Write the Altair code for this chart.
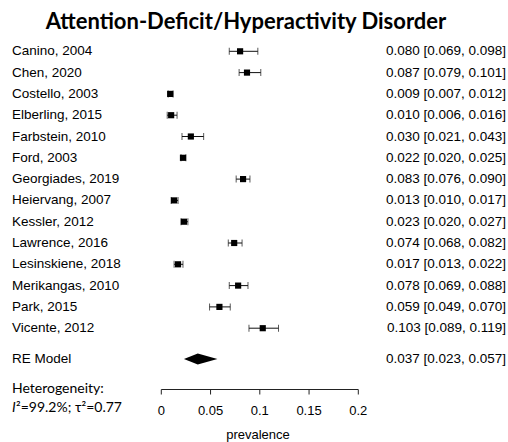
import altair as alt
import pandas as pd

# Study-level prevalence estimates with 95% confidence intervals
studies = [
    "Canino, 2004", "Chen, 2020", "Costello, 2003", "Elberling, 2015",
    "Farbstein, 2010", "Ford, 2003", "Georgiades, 2019", "Heiervang, 2007",
    "Kessler, 2012", "Lawrence, 2016", "Lesinskiene, 2018", "Merikangas, 2010",
    "Park, 2015", "Vicente, 2012",
]
est = [0.080, 0.087, 0.009, 0.010, 0.030, 0.022, 0.083, 0.013, 0.023, 0.074, 0.017, 0.078, 0.059, 0.103]
lower = [0.069, 0.079, 0.007, 0.006, 0.021, 0.020, 0.076, 0.010, 0.020, 0.068, 0.013, 0.069, 0.049, 0.089]
upper = [0.098, 0.101, 0.012, 0.016, 0.043, 0.025, 0.090, 0.017, 0.027, 0.082, 0.022, 0.088, 0.070, 0.119]

# Random-effects pooled estimate
re_label = "RE Model"
re_est, re_lower, re_upper = 0.037, 0.023, 0.057

# Axis ticks
tick_values = [0, 0.05, 0.1, 0.15, 0.2]
tick_labels = ["0", "0.05", "0.1", "0.15", "0.2"]

title_text = "Attention-Deficit/Hyperactivity Disorder"
het_line1 = "Heterogeneity:"
het_i2 = "\u00b2=99.2%; \u03c4\u00b2=0.77"
x_title = "prevalence"

# ---- layout ----
W, H = 508, 442
X0_PX, PX_PER_UNIT = 161.3, 985.0      # pixel of prevalence 0, pixels per unit
ROW0_PX, ROW_PX = 51.3, 21.3           # pixel of first row, row spacing
RE_ROW = 14.45
AXIS_Y = 389.5
LABEL_FONT = "Liberation Sans"
SIDE_FONT = "Lato"

xscale = alt.Scale(domain=[-X0_PX / PX_PER_UNIT, (W - X0_PX) / PX_PER_UNIT],
                   range=[0, W], zero=False, nice=False)
yscale = alt.Scale(domain=[-ROW0_PX / ROW_PX, (H - ROW0_PX) / ROW_PX],
                   range=[0, H], zero=False, nice=False)

rows = pd.DataFrame({
    "study": studies,
    "row": list(range(len(studies))),
    "est": est,
    "lower": lower,
    "upper": upper,
})
rows["ci_text"] = [f"{e:.3f} [{l:.3f}, {u:.3f}]" for e, l, u in zip(est, lower, upper)]

re_df = pd.DataFrame({
    "study": [re_label], "row": [RE_ROW],
    "ci_text": [f"{re_est:.3f} [{re_lower:.3f}, {re_upper:.3f}]"],
})

# Diamond for the pooled estimate: widest at the estimate, points at the CI limits
half = 5.5 / ROW_PX
diamond = pd.DataFrame({
    "x": [re_lower, re_est, re_upper],
    "ytop": [RE_ROW, RE_ROW - half, RE_ROW],
    "ybot": [RE_ROW, RE_ROW + half, RE_ROW],
})

ticks_df = pd.DataFrame({"v": tick_values, "lab": tick_labels})
axis_df = pd.DataFrame({"a": [tick_values[0]], "b": [tick_values[-1]]})

base = alt.Chart(rows)
Y = alt.Y("row:Q", scale=yscale, axis=None)

ci_lines = base.mark_rule(color="#111", strokeWidth=1).encode(
    x=alt.X("lower:Q", scale=xscale, axis=None), x2="upper:Q", y=Y)
cap_lo = base.mark_tick(color="#111", orient="vertical", size=7, thickness=1).encode(
    x=alt.X("lower:Q", scale=xscale, axis=None), y=Y)
cap_hi = base.mark_tick(color="#111", orient="vertical", size=7, thickness=1).encode(
    x=alt.X("upper:Q", scale=xscale, axis=None), y=Y)
squares = base.mark_point(shape="square", filled=True, color="#000", size=38, opacity=1).encode(
    x=alt.X("est:Q", scale=xscale, axis=None), y=Y)

study_text = base.mark_text(align="left", baseline="middle", font=LABEL_FONT,
                            fontSize=13.5, color="#000").encode(
    x=alt.value(12), y=Y, text="study:N")
ci_text = base.mark_text(align="right", baseline="middle", font=LABEL_FONT,
                         fontSize=13.5, color="#000").encode(
    x=alt.value(506), y=Y, text="ci_text:N")

re_chart = alt.Chart(re_df)
re_name = re_chart.mark_text(align="left", baseline="middle", font=LABEL_FONT,
                             fontSize=13.5, color="#000").encode(
    x=alt.value(12), y=alt.Y("row:Q", scale=yscale, axis=None), text="study:N")
re_ci = re_chart.mark_text(align="right", baseline="middle", font=LABEL_FONT,
                           fontSize=13.5, color="#000").encode(
    x=alt.value(506), y=alt.Y("row:Q", scale=yscale, axis=None), text="ci_text:N")

re_diamond = alt.Chart(diamond).mark_area(color="#000", opacity=1).encode(
    x=alt.X("x:Q", scale=xscale, axis=None),
    y=alt.Y("ytop:Q", scale=yscale, axis=None),
    y2="ybot:Q",
)

# Bottom axis drawn R-style: line spans the tick range, ticks hang below
axis_line = alt.Chart(axis_df).mark_rule(color="#222", strokeWidth=1).encode(
    x=alt.X("a:Q", scale=xscale, axis=None), x2="b:Q", y=alt.value(AXIS_Y))
axis_ticks = alt.Chart(ticks_df).mark_rule(color="#222", strokeWidth=1).encode(
    x=alt.X("v:Q", scale=xscale, axis=None), y=alt.value(AXIS_Y), y2=alt.value(AXIS_Y + 5))
axis_labels = alt.Chart(ticks_df).mark_text(baseline="middle", align="center", font=LABEL_FONT,
                                            fontSize=13, color="#000").encode(
    x=alt.X("v:Q", scale=xscale, axis=None), y=alt.value(410.5), text="lab:N")

texts = pd.DataFrame({"t": [0]})
tchart = alt.Chart(texts)
axis_title = tchart.mark_text(baseline="middle", align="center", font=LABEL_FONT,
                              fontSize=13, color="#000", text=x_title).encode(
    x=alt.value(258), y=alt.value(434.5))
title = tchart.mark_text(baseline="middle", align="center", font=SIDE_FONT, fontWeight="bold",
                         fontSize=22, color="#000", text=title_text).encode(
    x=alt.value(246), y=alt.value(22))
het1 = tchart.mark_text(baseline="middle", align="left", font=SIDE_FONT,
                        fontSize=14, color="#000", text=het_line1).encode(
    x=alt.value(12), y=alt.value(388.5))
het_i = tchart.mark_text(baseline="middle", align="left", font=SIDE_FONT, fontStyle="italic",
                         fontSize=14, color="#000", text="I").encode(
    x=alt.value(12), y=alt.value(407.5))
het2 = tchart.mark_text(baseline="middle", align="left", font=SIDE_FONT,
                        fontSize=14, color="#000", text=het_i2).encode(
    x=alt.value(16), y=alt.value(407.5))

chart = alt.layer(
    ci_lines, cap_lo, cap_hi, squares, study_text, ci_text,
    re_name, re_ci, re_diamond,
    axis_line, axis_ticks, axis_labels, axis_title,
    title, het1, het_i, het2,
).properties(
    width=W, height=H, padding=0, autosize=alt.AutoSizeParams(type="none"),
    background="white",
).configure_view(stroke=None)

chart.save("out.html", embed_options={"renderer": "svg", "actions": False})
